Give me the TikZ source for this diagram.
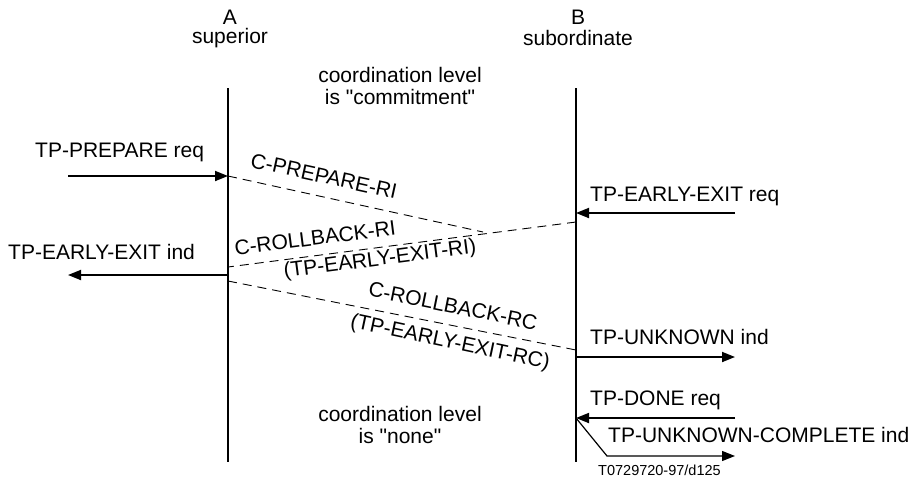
\documentclass[tikz,border=0pt]{standalone}
\usepackage{fontspec}
\setmainfont{Liberation Sans}
\usetikzlibrary{arrows.meta}
\begin{document}
\begin{tikzpicture}[x=1pt,y=-1pt,
  lbl/.style={font=\fontsize{21}{22}\selectfont, inner sep=0pt},
  small/.style={font=\fontsize{14.5}{16}\selectfont, inner sep=0pt},
  life/.style={line width=1.8pt},
  msg/.style={line width=1.8pt,-{Triangle[length=13pt,width=10pt]}},
  pdu/.style={line width=0.9pt,dash pattern=on 9pt off 6pt}]
\useasboundingbox (0,0) rectangle (916,491);
% headers
\node[lbl] (hA) at (230,17) {A};
\node[lbl] (hAs) at (230,38) {superior};
\node[lbl] (hB) at (578,17) {B};
\node[lbl] (hBs) at (578,38) {subordinate};
\node[lbl] (cl1) at (400,75) {coordination level};
\node[lbl] (cl1b) at (400,97) {is \textquotedbl commitment\textquotedbl};
\node[lbl] (cl2) at (400,414) {coordination level};
\node[lbl] (cl2b) at (400,436) {is \textquotedbl none\textquotedbl};
% lifelines
\coordinate (At) at (228,88);
\coordinate (Ab) at (228,462);
\coordinate (Bt) at (576,88);
\coordinate (Bb) at (576,462);
\draw[life] (At) -- (Ab);
\draw[life] (Bt) -- (Bb);
% left primitives
\node[lbl,anchor=west] (prep) at (35,152) {TP-PREPARE req};
\coordinate (prepS) at (68,176);
\coordinate (prepE) at (228,176);
\draw[msg] (prepS) -- (prepE);
\node[lbl,anchor=west] (eeind) at (8,252) {TP-EARLY-EXIT ind};
\coordinate (eeS) at (228,275);
\coordinate (eeE) at (68,275);
\draw[msg] (eeS) -- (eeE);
% right primitives
\node[lbl,anchor=west] (eereq) at (590,196) {TP-EARLY-EXIT req};
\coordinate (eerS) at (735,213);
\coordinate (eerE) at (576,213);
\draw[msg] (eerS) -- (eerE);
\node[lbl,anchor=west] (unk) at (590,337) {TP-UNKNOWN ind};
\coordinate (unkS) at (576,357);
\coordinate (unkE) at (735,357);
\draw[msg] (unkS) -- (unkE);
\node[lbl,anchor=west] (done) at (590,400) {TP-DONE req};
\coordinate (doneS) at (735,418);
\coordinate (doneE) at (576,418);
\draw[msg] (doneS) -- (doneE);
\node[lbl,anchor=west] (ucomp) at (608,435) {TP-UNKNOWN-COMPLETE ind};
\coordinate (ucK) at (607,456);
\coordinate (ucE) at (735,456);
\draw[line width=1.2pt,-{Triangle[length=13pt,width=10pt]}] (doneE) -- (ucK) -- (ucE);
% dashed PDUs
\coordinate (p1S) at (228,176);
\coordinate (p1E) at (483,232);
\draw[pdu] (p1S) -- (p1E);
\coordinate (p2S) at (576,222);
\coordinate (p2E) at (228,267);
\draw[pdu] (p2S) -- (p2E);
\coordinate (p3S) at (228,281);
\coordinate (p3E) at (576,350);
\draw[pdu] (p3S) -- (p3E);
\node[lbl,rotate=-12.4] (l1) at (324,176) {C-PREPARE-RI};
\node[lbl,rotate=7.4] (l2) at (315,238) {C-ROLLBACK-RI};
\node[lbl,rotate=7.4] (l3) at (380,260) {(TP-EARLY-EXIT-RI)};
\node[lbl,rotate=-11.5] (l4) at (453,306) {C-ROLLBACK-RC};
\node[lbl,rotate=-12] (l5) at (450,343) {(TP-EARLY-EXIT-RC)};
\node[small,anchor=west] (ref) at (598,470) {T0729720-97/d125};
\end{tikzpicture}
\end{document}
